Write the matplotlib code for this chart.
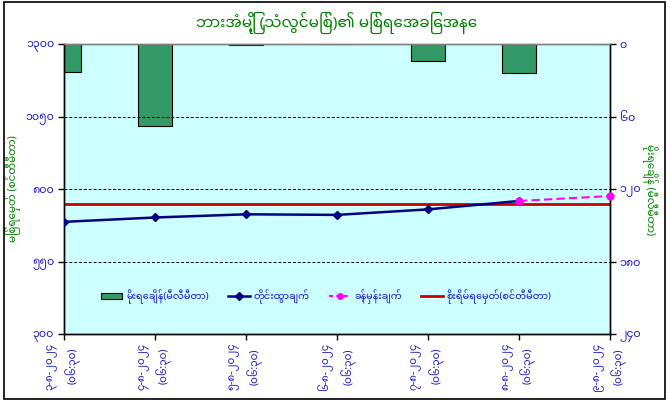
import matplotlib
matplotlib.use("Agg")
import matplotlib.pyplot as plt
from matplotlib import font_manager
from matplotlib.ft2font import FT2Font
from matplotlib.lines import Line2D
from matplotlib.patches import Patch, Rectangle
from matplotlib.ticker import FixedLocator, FuncFormatter


# ၃-၈-၂၀၂၄ မှ ၉-၈-၂၀၂၄ အထိ (နံနက် ၀၆:၃၀)
dates = ["၃-၈-၂၀၂၄", "၄-၈-၂၀၂၄", "၅-၈-၂၀၂၄", "၆-၈-၂၀၂၄",
         "၇-၈-၂၀၂၄", "၈-၈-၂၀၂၄", "၉-၈-၂၀၂၄"]
obs_time = "(၀၆:၃၀)"

rainfall = [23, 68, 0.5, 0, 14, 24, 0]          # mm, right axis
observed = [687, 702, 713, 711, 730, 759]       # cm, days 3..8
forecast = [759, 776]                           # cm, days 8..9
danger_level = 750

title = "ဘားအံမြို့ (သံလွင်မြစ်)၏ မြစ်ရေအခြေအနေ"
left_label = "မြစ်ရေမှတ် (စင်တီမီတာ)"
right_label = "မိုးရေချိန် (မီလီမီတာ)"
legend_labels = ["မိုးရေချိန်(မီလီမီတာ)", "တိုင်းထွာချက်",
                 "ခန့်မှန်းချက်", "စိုးရိမ်ရေမှတ်(စင်တီမီတာ)"]

level_ticks = [300, 550, 800, 1050, 1300]
rain_ticks = [0, 60, 120, 180, 240]

MM_DIGITS = str.maketrans("0123456789", "၀၁၂၃၄၅၆၇၈၉")


def mm_num(v, pos=None):
    return str(int(round(v))).translate(MM_DIGITS)


def find_myanmar_fonts():
    names = []
    for f in font_manager.fontManager.ttflist:
        try:
            cmap = FT2Font(f.fname).get_charmap()
        except Exception:
            continue
        if 0x1019 in cmap and f.name not in names:
            names.append(f.name)
    # prefer proper outline fonts over bitmap-style ones
    order = ["Noto Sans Myanmar", "Padauk", "Myanmar Text", "Pyidaungsu"]
    names.sort(key=lambda n: order.index(n) if n in order else len(order)
               + ("Unifont" in n))
    return names


mm_fonts = find_myanmar_fonts()
plt.rcParams["font.family"] = mm_fonts[:1] + ["DejaVu Sans"]

BLUE = "#1a1acc"
GREEN = "#008000"

fig = plt.figure(figsize=(6.70, 4.04), dpi=100)
fig.patches.append(Rectangle((0.006, 0.012), 0.986, 0.982, transform=fig.transFigure,
                             fill=False, edgecolor="black", linewidth=1.2))

# bars on the lower axes, lines on the twin so they draw on top
ax_rain = fig.add_axes([0.0955, 0.173, 0.815, 0.718])
ax_lvl = ax_rain.twinx()

x = list(range(len(dates)))
ax_rain.set_facecolor("#ccffff")
ax_rain.bar(x, rainfall, width=0.37, color="#339966", edgecolor="black", linewidth=0.8)
ax_rain.set_ylim(240, 0)
ax_rain.yaxis.tick_right()
ax_rain.yaxis.set_label_position("right")
ax_rain.yaxis.set_major_locator(FixedLocator(rain_ticks))
ax_rain.yaxis.set_major_formatter(FuncFormatter(mm_num))
ax_rain.set_ylabel(right_label, color=GREEN, fontsize=7.5, rotation=270, labelpad=12)

ax_lvl.yaxis.tick_left()
ax_lvl.yaxis.set_label_position("left")
ax_lvl.set_ylim(300, 1300)
ax_lvl.yaxis.set_major_locator(FixedLocator(level_ticks))
ax_lvl.yaxis.set_major_formatter(FuncFormatter(mm_num))
ax_lvl.set_ylabel(left_label, color=GREEN, fontsize=7.5, labelpad=3)
for v in level_ticks[1:-1]:
    ax_lvl.axhline(v, color="black", linestyle=(0, (3, 2)), linewidth=0.7, zorder=1)

ax_lvl.axhline(danger_level, color="#cc0000", linewidth=2, zorder=2)
ax_lvl.plot(x[:len(observed)], observed, color="#000080", linewidth=1.8,
            marker="D", markersize=4, zorder=3)
fc_x = x[len(observed) - 1:]
ax_lvl.plot(fc_x, forecast, color="#ff00ff", linewidth=1.5, linestyle=(0, (4, 2)),
            marker="o", markersize=5, zorder=4, clip_on=False)

ax_rain.set_xlim(0, len(dates) - 1)
ax_rain.set_xticks(x)
ax_rain.set_xticklabels([d + "\n" + obs_time for d in dates], rotation=90,
                        fontsize=7.5, color=BLUE, linespacing=1.7)

for a in (ax_rain, ax_lvl):
    a.tick_params(axis="y", labelsize=8, labelcolor=BLUE, length=4, width=1, pad=3)
    a.tick_params(axis="x", length=4, width=1, pad=2)
    for s in a.spines.values():
        s.set_linewidth(1)
    a.spines["top"].set_color("#808080")

ax_lvl.set_title(title, color=GREEN, fontsize=11, fontweight="bold", pad=12)

handles = [
    Patch(facecolor="#339966", edgecolor="black", linewidth=0.8),
    Line2D([], [], color="#000080", linewidth=1.8, marker="D", markersize=4),
    Line2D([], [], color="#ff00ff", linewidth=1.5, linestyle=(0, (2, 1.5)), marker="o", markersize=4),
    Line2D([], [], color="#cc0000", linewidth=2),
]
leg = ax_lvl.legend(handles, legend_labels, loc="center", bbox_to_anchor=(0.48, 0.128),
                    ncol=4, frameon=False, fontsize=7, handlelength=2.2,
                    columnspacing=2.0, handletextpad=0.4)
for t in leg.get_texts():
    t.set_color(BLUE)

fig.savefig("out.png", dpi=100)
